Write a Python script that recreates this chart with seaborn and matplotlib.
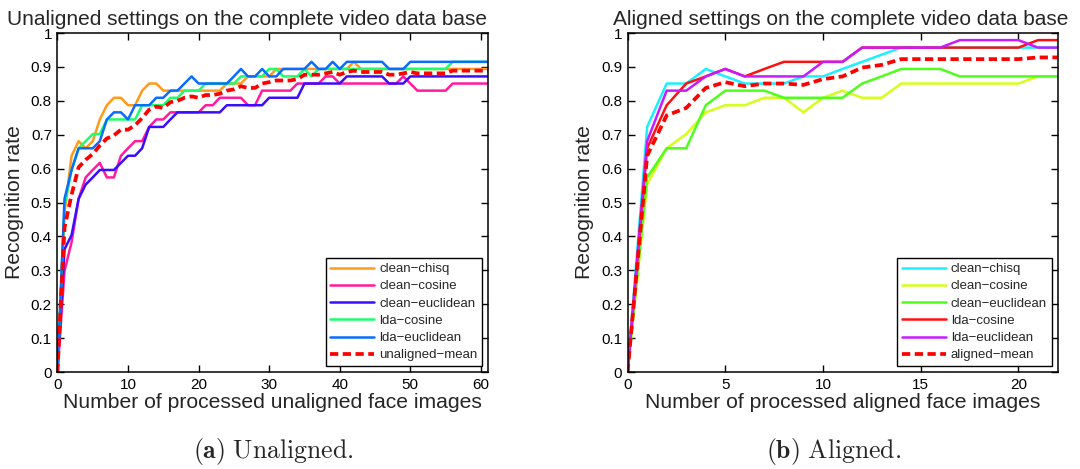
import numpy as np
import pandas as pd
import seaborn as sns
import matplotlib
matplotlib.use("Agg")
import matplotlib.pyplot as plt

# ---------------- data ----------------
# Unaligned: number of processed face images 0..61
unaligned_n = list(range(62))
ua_clean_chisq = [
    0.000, 0.468, 0.638, 0.681, 0.660, 0.681, 0.745, 0.787, 0.809, 0.809,
    0.787, 0.787, 0.830, 0.851, 0.851, 0.830, 0.830, 0.830, 0.830, 0.830,
    0.830, 0.830, 0.830, 0.830, 0.851, 0.851, 0.851, 0.872, 0.872, 0.872,
    0.872, 0.894, 0.894, 0.894, 0.894, 0.894, 0.894, 0.894, 0.894, 0.894,
    0.894, 0.894, 0.915, 0.894, 0.894, 0.894, 0.894, 0.894, 0.894, 0.894,
    0.894, 0.894, 0.894, 0.894, 0.894, 0.894, 0.894, 0.894, 0.894, 0.894,
    0.894, 0.894]
ua_clean_cosine = [
    0.000, 0.298, 0.383, 0.511, 0.574, 0.596, 0.617, 0.574, 0.574, 0.638,
    0.660, 0.681, 0.681, 0.723, 0.745, 0.745, 0.766, 0.766, 0.766, 0.766,
    0.766, 0.787, 0.787, 0.809, 0.809, 0.809, 0.809, 0.787, 0.787, 0.830,
    0.830, 0.830, 0.830, 0.830, 0.851, 0.851, 0.851, 0.851, 0.872, 0.872,
    0.851, 0.851, 0.851, 0.851, 0.851, 0.851, 0.851, 0.851, 0.851, 0.872,
    0.851, 0.830, 0.830, 0.830, 0.830, 0.830, 0.851, 0.851, 0.851, 0.851,
    0.851, 0.851]
ua_clean_euclidean = [
    0.000, 0.362, 0.404, 0.511, 0.553, 0.574, 0.596, 0.596, 0.596, 0.617,
    0.638, 0.638, 0.660, 0.723, 0.723, 0.723, 0.745, 0.766, 0.766, 0.766,
    0.766, 0.766, 0.766, 0.766, 0.787, 0.787, 0.787, 0.787, 0.787, 0.787,
    0.809, 0.809, 0.809, 0.809, 0.809, 0.851, 0.851, 0.851, 0.851, 0.851,
    0.851, 0.872, 0.872, 0.872, 0.872, 0.872, 0.872, 0.851, 0.851, 0.851,
    0.872, 0.872, 0.872, 0.872, 0.872, 0.872, 0.872, 0.872, 0.872, 0.872,
    0.872, 0.872]
ua_lda_cosine = [
    0.000, 0.489, 0.596, 0.660, 0.681, 0.702, 0.702, 0.745, 0.745, 0.745,
    0.745, 0.745, 0.787, 0.787, 0.787, 0.787, 0.809, 0.809, 0.830, 0.830,
    0.830, 0.851, 0.851, 0.851, 0.851, 0.851, 0.872, 0.872, 0.872, 0.872,
    0.894, 0.894, 0.872, 0.872, 0.872, 0.894, 0.872, 0.894, 0.894, 0.894,
    0.894, 0.894, 0.894, 0.894, 0.894, 0.894, 0.894, 0.894, 0.894, 0.894,
    0.894, 0.894, 0.894, 0.894, 0.894, 0.894, 0.915, 0.915, 0.915, 0.915,
    0.915, 0.915]
ua_lda_euclidean = [
    0.000, 0.511, 0.596, 0.660, 0.660, 0.660, 0.681, 0.745, 0.766, 0.766,
    0.745, 0.787, 0.787, 0.787, 0.809, 0.809, 0.830, 0.830, 0.851, 0.872,
    0.851, 0.851, 0.851, 0.851, 0.851, 0.872, 0.894, 0.872, 0.872, 0.894,
    0.872, 0.872, 0.894, 0.894, 0.894, 0.894, 0.915, 0.894, 0.894, 0.915,
    0.894, 0.915, 0.915, 0.915, 0.915, 0.915, 0.915, 0.894, 0.894, 0.894,
    0.915, 0.915, 0.915, 0.915, 0.915, 0.915, 0.915, 0.915, 0.915, 0.915,
    0.915, 0.915]
ua_mean = [
    0.000, 0.426, 0.523, 0.604, 0.626, 0.643, 0.668, 0.689, 0.698, 0.715,
    0.715, 0.728, 0.749, 0.774, 0.783, 0.779, 0.796, 0.800, 0.809, 0.813,
    0.809, 0.817, 0.817, 0.821, 0.830, 0.834, 0.843, 0.838, 0.838, 0.851,
    0.855, 0.860, 0.860, 0.860, 0.864, 0.877, 0.877, 0.877, 0.881, 0.885,
    0.877, 0.885, 0.889, 0.885, 0.885, 0.885, 0.885, 0.877, 0.877, 0.881,
    0.885, 0.881, 0.881, 0.881, 0.881, 0.881, 0.889, 0.889, 0.889, 0.889,
    0.889, 0.889]

# Aligned: number of processed face images 0..22
aligned_n = list(range(23))
al_clean_chisq = [0.000, 0.723, 0.851, 0.851, 0.894, 0.872, 0.851, 0.851, 0.851, 0.872,
                  0.872, 0.894, 0.915, 0.936, 0.957, 0.957, 0.957, 0.957, 0.957, 0.957,
                  0.957, 0.957, 0.957]
al_clean_cosine = [0.000, 0.553, 0.660, 0.702, 0.766, 0.787, 0.787, 0.809, 0.809, 0.766,
                   0.809, 0.830, 0.809, 0.809, 0.851, 0.851, 0.851, 0.851, 0.851, 0.851,
                   0.851, 0.872, 0.872]
al_clean_euclidean = [0.000, 0.574, 0.660, 0.660, 0.787, 0.830, 0.830, 0.830, 0.809, 0.809,
                      0.809, 0.809, 0.851, 0.872, 0.894, 0.894, 0.894, 0.872, 0.872, 0.872,
                      0.872, 0.872, 0.872]
al_lda_cosine = [0.000, 0.660, 0.787, 0.851, 0.872, 0.894, 0.872, 0.894, 0.915, 0.915,
                 0.915, 0.915, 0.957, 0.957, 0.957, 0.957, 0.957, 0.957, 0.957, 0.957,
                 0.957, 0.979, 0.979]
al_lda_euclidean = [0.000, 0.681, 0.830, 0.830, 0.872, 0.894, 0.872, 0.872, 0.872, 0.872,
                    0.915, 0.915, 0.957, 0.957, 0.957, 0.957, 0.957, 0.979, 0.979, 0.979,
                    0.979, 0.957, 0.957]
al_mean = [0.000, 0.638, 0.757, 0.779, 0.838, 0.855, 0.843, 0.851, 0.851, 0.847,
           0.864, 0.872, 0.898, 0.906, 0.923, 0.923, 0.923, 0.923, 0.923, 0.923,
           0.923, 0.928, 0.928]

ua_labels = ["clean\u2212chisq", "clean\u2212cosine", "clean\u2212euclidean",
             "lda\u2212cosine", "lda\u2212euclidean", "unaligned\u2212mean"]
al_labels = ["clean\u2212chisq", "clean\u2212cosine", "clean\u2212euclidean",
             "lda\u2212cosine", "lda\u2212euclidean", "aligned\u2212mean"]

ua_colors = ["#ff9a1a", "#ff1aa0", "#3a0dff", "#1aff6a", "#0a6cff", "#ff0000"]
al_colors = ["#1af0ff", "#d4ff1a", "#4dff1a", "#ff1010", "#c81aff", "#ff0000"]

# ---------------- style ----------------
sns.set_style("ticks")
plt.rcParams["font.family"] = ["Liberation Sans", "DejaVu Sans"]
plt.rcParams["mathtext.fontset"] = "cm"
plt.rcParams["axes.linewidth"] = 1.1
plt.rcParams["axes.edgecolor"] = "black"
plt.rcParams["legend.fancybox"] = False
plt.rcParams["legend.edgecolor"] = "black"
plt.rcParams["legend.framealpha"] = 1.0


def long_frame(n, series, labels):
    parts = []
    for vals, lab in zip(series, labels):
        parts.append(pd.DataFrame({"n": n, "rate": vals, "series": lab}))
    return pd.concat(parts, ignore_index=True)


def draw(ax, frame, labels, colors, xmax, xticks, title, xlabel, title_x):
    palette = dict(zip(labels, colors))
    dashes = {lab: "" for lab in labels}
    dashes[labels[-1]] = (2.2, 1.2)
    sizes = {lab: 1.8 for lab in labels}
    sizes[labels[-1]] = 2.7
    sns.lineplot(data=frame, x="n", y="rate", hue="series", style="series",
                 size="series", hue_order=labels, style_order=labels,
                 size_order=labels, palette=palette, dashes=dashes, sizes=sizes,
                 estimator=None, sort=False, ax=ax)
    ax.set_xlim(0, xmax)
    ax.set_ylim(0, 1)
    ax.set_xticks(xticks)
    ax.set_yticks(np.arange(0, 1.01, 0.1))
    ax.set_yticklabels(["0", "0.1", "0.2", "0.3", "0.4", "0.5", "0.6",
                        "0.7", "0.8", "0.9", "1"])
    ax.tick_params(direction="in", top=True, right=True, length=5,
                   width=1.0, labelsize=11, pad=4, colors="black")
    for s in ax.spines.values():
        s.set_visible(True)
        s.set_color("black")
    ax.set_title(title, fontsize=15, pad=6, x=title_x)
    ax.set_xlabel(xlabel, fontsize=15.2, labelpad=1)
    ax.set_ylabel("Recognition rate", fontsize=15.2, labelpad=5)
    handles, labs = ax.get_legend_handles_labels()
    leg = ax.legend(handles, labs, loc="lower right", fontsize=9.5,
                    handlelength=3.3, handletextpad=0.4, labelspacing=0.38,
                    borderpad=0.35, borderaxespad=0.45, frameon=True)
    leg.get_frame().set_linewidth(1.0)


fig = plt.figure(figsize=(10.8, 4.69), dpi=100)
ax1 = fig.add_axes([0.0532, 0.2068, 0.3986, 0.7228])
ax2 = fig.add_axes([0.5811, 0.2068, 0.3981, 0.7228])

ua_frame = long_frame(unaligned_n,
                      [ua_clean_chisq, ua_clean_cosine, ua_clean_euclidean,
                       ua_lda_cosine, ua_lda_euclidean, ua_mean], ua_labels)
al_frame = long_frame(aligned_n,
                      [al_clean_chisq, al_clean_cosine, al_clean_euclidean,
                       al_lda_cosine, al_lda_euclidean, al_mean], al_labels)

draw(ax1, ua_frame, ua_labels, ua_colors, 61, range(0, 61, 10),
     "Unaligned settings on the complete video data base",
     "Number of processed unaligned face images", 0.44)
draw(ax2, al_frame, al_labels, al_colors, 22, range(0, 21, 5),
     "Aligned settings on the complete video data base",
     "Number of processed aligned face images", 0.495)

fig.text(0.2525, 0.037, r"$\mathbf{(a)}\ \mathrm{Unaligned.}$", ha="center",
         va="center", fontsize=18.5)
fig.text(0.772, 0.037, r"$\mathbf{(b)}\ \mathrm{Aligned.}$", ha="center",
         va="center", fontsize=18.5)

fig.savefig("out.png", dpi=100, facecolor="white")
